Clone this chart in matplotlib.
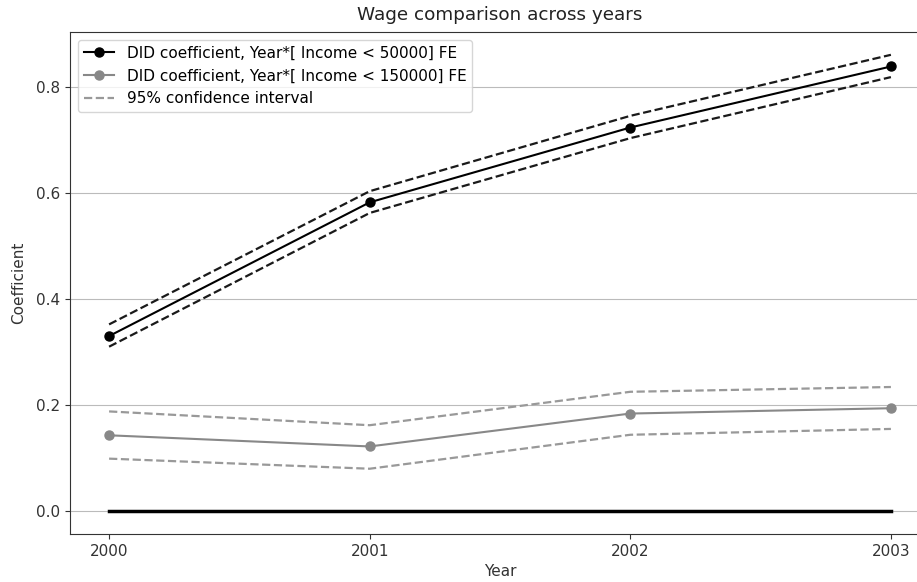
import matplotlib
matplotlib.use("Agg")
import matplotlib.pyplot as plt

plt.rcParams['font.family'] = ['DejaVu Sans']

years = [2000, 2001, 2002, 2003]
coef_low = [0.330, 0.582, 0.723, 0.838]
ci_low_upper = [0.352, 0.603, 0.745, 0.860]
ci_low_lower = [0.310, 0.562, 0.703, 0.818]
coef_high = [0.143, 0.122, 0.184, 0.194]
ci_high_upper = [0.188, 0.162, 0.225, 0.234]
ci_high_lower = [0.099, 0.080, 0.144, 0.155]
zero = [0, 0, 0, 0]

fig = plt.figure(figsize=(9.17, 5.82), dpi=100)
ax = fig.add_axes([70/917, 48/582, 860/917, 502/582])

ax.plot(years, zero, color="black", lw=2.5)
ax.plot(years, coef_low, color="black", marker="o", markersize=6.5, lw=1.5,
        label="DID coefficient, Year*[ Income < 50000] FE")
ax.plot(years, ci_low_upper, color="#1a1a1a", ls="--", lw=1.6)
ax.plot(years, ci_low_lower, color="#1a1a1a", ls="--", lw=1.6)
ax.plot(years, coef_high, color="#888888", marker="o", markersize=6.5, lw=1.5,
        label="DID coefficient, Year*[ Income < 150000] FE")
ax.plot(years, ci_high_upper, color="#999999", ls="--", lw=1.6,
        label="95% confidence interval")
ax.plot(years, ci_high_lower, color="#999999", ls="--", lw=1.6)

ax.set_xticks(years)
ax.set_xticklabels([str(y) for y in years])
ax.set_yticks([0.0, 0.2, 0.4, 0.6, 0.8])
ax.yaxis.grid(True, color="#bbbbbb", lw=0.8)
ax.set_axisbelow(True)
ax.set_xlabel("Year", fontsize=11, color="#333333")
ax.set_ylabel("Coefficient", fontsize=11, color="#333333", labelpad=7)
ax.set_title("Wage comparison across years", fontsize=13.2, color="#222222", pad=8.5)
ax.tick_params(labelsize=11, colors="#333333")
for s in ax.spines.values():
    s.set_color("#333333")
ax.legend(loc="upper left", fontsize=11, borderaxespad=0.5)

fig.savefig("out.png", dpi=100)
